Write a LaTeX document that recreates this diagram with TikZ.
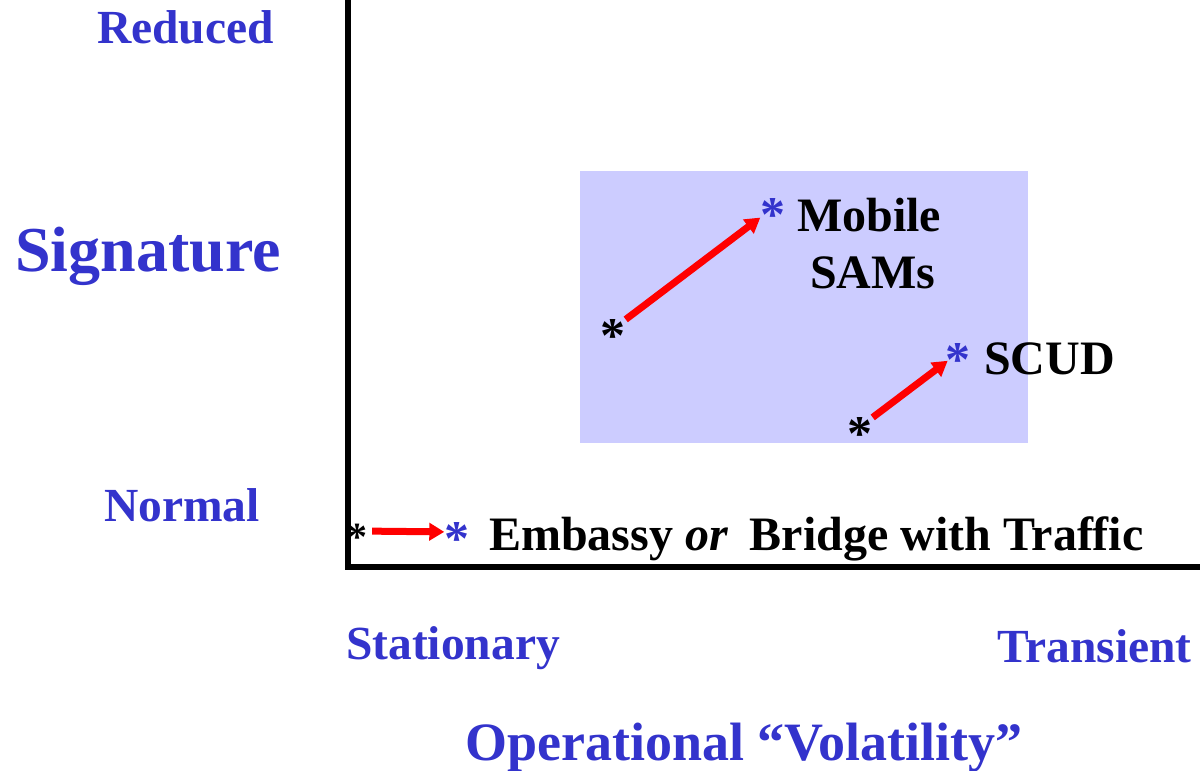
\documentclass[tikz,border=0pt]{standalone}
\usepackage{fontspec}
\setmainfont{Liberation Serif}
\usetikzlibrary{arrows.meta}
\definecolor{axisblue}{RGB}{51,51,204}
\definecolor{zonefill}{RGB}{204,204,255}
\newcommand\starglyph[1]{\raisebox{-#1}{*}}
\tikzset{
  lbl/.style={font=\bfseries\fontsize{47.5}{47.5}\selectfont, text=axisblue, inner sep=0pt, anchor=base west},
  item/.style={font=\bfseries\fontsize{48}{48}\selectfont, text=black, inner sep=0pt, anchor=base west},
  astbig/.style={font=\bfseries\fontsize{50}{50}\selectfont, inner sep=0pt, text height=11pt, text depth=11pt},
  astsmall/.style={font=\bfseries\fontsize{40}{40}\selectfont, inner sep=0pt, text height=8.5pt, text depth=8.5pt},
  move/.style={draw=red, line width=7pt, -{Triangle[length=15pt,width=17pt]}},
}
\begin{document}
\begin{tikzpicture}[x=1pt, y=-1pt]
  \useasboundingbox (0,0) rectangle (1200,771);
  % shaded region of shifting targets
  \fill[zonefill] (580,171) rectangle (1028,443);
  % axes
  \draw[line width=6pt, line join=miter] (348,0) -- (348,566.5) -- (1200,566.5);

  % axis labels
  \node[lbl] (reduced) at (97,43) {Reduced};
  \node[lbl, font=\bfseries\fontsize{64}{64}\selectfont] (sig) at (15,271) {Signature};
  \node[lbl] (normal) at (104,521) {Normal};
  \node[lbl] (stat) at (346,659) {Stationary};
  \node[lbl] (trans) at (997,662) {Transient};
  \node[lbl, font=\bfseries\fontsize{54}{54}\selectfont] (vol) at (465,760) {Operational ``Volatility''};

  % Mobile SAMs
  \node[astbig, text=black] (m0) at (613,329) {\starglyph{23.5pt}};
  \node[astbig, text=axisblue] (m1) at (773,208) {\starglyph{23.5pt}};
  \draw[move] (m0) -- (m1);
  \node[item] (mob) at (797,231) {Mobile};
  \node[item] (sams) at (810,288) {SAMs};

  % SCUD
  \node[astbig, text=black] (s0) at (860,427) {\starglyph{23.5pt}};
  \node[astbig, text=axisblue] (s1) at (958,353) {\starglyph{23.5pt}};
  \draw[move, shorten >=-3pt] (s0) -- (s1);
  \node[item] (scud) at (984,374) {SCUD};

  % Embassy or Bridge
  \node[astsmall, text=black] (e0) at (357,531) {\starglyph{19pt}};
  \node[astbig, text=axisblue] (e1) at (457,532) {\starglyph{23.5pt}};
  \draw[move, shorten <=5pt] (e0) -- (e1);
  \node[item] (emb) at (489,550) {Embassy \textit{or}\hspace{0.45em}Bridge with Traffic};
\end{tikzpicture}
\end{document}
